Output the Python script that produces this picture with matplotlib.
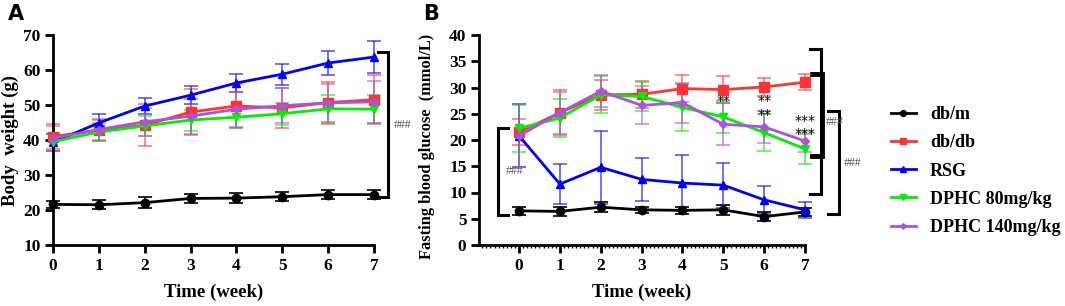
import matplotlib
matplotlib.use("Agg")
import matplotlib.pyplot as plt
from matplotlib.ticker import MultipleLocator
import numpy as np

weeks = [0, 1, 2, 3, 4, 5, 6, 7]
groups = ["db/m", "db/db", "RSG", "DPHC 80mg/kg", "DPHC 140mg/kg"]
colors = ["#000000", "#FF3333", "#0000FF", "#00EE00", "#B050E0"]
markers = ["o", "s", "^", "v", "D"]
msizes = [6, 6.5, 6, 6, 4]

# Panel A: body weight (g)
bw_dbm = [21.6, 21.5, 22.1, 23.3, 23.4, 23.8, 24.4, 24.4]
bw_dbm_err = [1.1, 1.3, 1.5, 1.2, 1.5, 1.3, 1.2, 1.3]
bw_dbdb = [41.0, 42.8, 44.2, 48.0, 49.7, 49.2, 50.7, 51.5]
bw_dbdb_err = [3.5, 3.0, 6.0, 6.5, 6.2, 5.7, 6.0, 7.0]
bw_rsg = [39.3, 44.9, 49.7, 52.8, 56.3, 58.8, 62.0, 63.7]
bw_rsg_err = [2.3, 2.5, 2.3, 2.5, 2.5, 3.0, 3.5, 4.5]
bw_d80 = [39.5, 42.3, 44.0, 45.7, 46.5, 47.5, 48.9, 48.8]
bw_d80_err = [2.5, 2.5, 2.8, 3.0, 3.0, 3.2, 4.0, 4.0]
bw_d140 = [40.5, 43.0, 45.2, 46.8, 48.8, 49.8, 50.6, 50.9]
bw_d140_err = [3.5, 3.0, 4.0, 5.0, 5.0, 5.0, 5.5, 6.0]

# Panel B: fasting blood glucose (mmol/L)
fbg_dbm = [6.5, 6.4, 7.2, 6.7, 6.6, 6.7, 5.4, 6.3]
fbg_dbm_err = [0.8, 0.9, 0.9, 0.6, 0.6, 1.0, 0.8, 0.8]
fbg_dbdb = [21.5, 25.2, 28.6, 28.7, 29.8, 29.6, 30.1, 31.0]
fbg_dbdb_err = [2.5, 4.3, 2.8, 2.6, 2.6, 2.5, 1.8, 1.5]
fbg_rsg = [20.8, 11.6, 14.8, 12.5, 11.8, 11.4, 8.6, 6.7]
fbg_rsg_err = [6.0, 3.8, 7.0, 4.1, 5.4, 4.3, 2.6, 1.5]
fbg_d80 = [22.2, 24.2, 28.6, 28.3, 26.2, 24.4, 21.4, 18.3]
fbg_d80_err = [4.5, 3.7, 3.5, 2.8, 4.4, 3.0, 3.5, 2.8]
fbg_d140 = [20.8, 25.2, 29.3, 26.6, 27.1, 23.0, 22.5, 19.8]
fbg_d140_err = [6.0, 4.0, 3.0, 3.6, 3.8, 4.0, 3.0, 2.0]

# significance marks (panel B)
star_weeks = [5, 6, 7]
star_texts = ["**\n**", "**\n**", "***\n***"]
star_levels = [28.2, 26.1, 22.4]
star_spacing = [0.45, 1.0, 0.85]

bw_means = [bw_dbm, bw_dbdb, bw_rsg, bw_d80, bw_d140]
bw_errs = [bw_dbm_err, bw_dbdb_err, bw_rsg_err, bw_d80_err, bw_d140_err]
fbg_means = [fbg_dbm, fbg_dbdb, fbg_rsg, fbg_d80, fbg_d140]
fbg_errs = [fbg_dbm_err, fbg_dbdb_err, fbg_rsg_err, fbg_d80_err, fbg_d140_err]

serif = ["Liberation Serif", "DejaVu Serif"]
plt.rcParams["font.family"] = serif
plt.rcParams["font.weight"] = "bold"

W, H = 1065, 306
fig = plt.figure(figsize=(W / 100, H / 100), dpi=100)
axA = fig.add_axes([53 / W, 61 / H, (374 - 53) / W, (245 - 35) / H])
axB = fig.add_axes([479 / W, 61 / H, (805 - 479) / W, (245 - 35) / H])


def style(ax):
    for s in ["top", "right"]:
        ax.spines[s].set_visible(False)
    for s in ["left", "bottom"]:
        ax.spines[s].set_linewidth(2)
    ax.tick_params(axis="both", which="major", length=6, width=2,
                   labelsize=12.5, pad=3)
    for lab in ax.get_xticklabels() + ax.get_yticklabels():
        lab.set_fontweight("bold")


def draw(ax, means, errs, order):
    handles = {}
    for i in order:
        ax.errorbar(weeks, means[i], yerr=errs[i], fmt="none",
                    ecolor=colors[i], alpha=0.65 if i else 1.0,
                    elinewidth=1.2, capsize=5, capthick=1.2,
                    clip_on=False, zorder=2 + i * 0.1)
        ln, = ax.plot(weeks, means[i], color=colors[i], marker=markers[i],
                      ms=msizes[i], lw=2, clip_on=False, zorder=3 + i * 0.1,
                      label=groups[i])
        handles[i] = ln
    return [handles[i] for i in range(5)]


def bracket(ax, x0, x1, y0, y1, lw=2):
    ax.plot([x0, x1, x1, x0], [y1, y1, y0, y0], color="black", lw=lw,
            clip_on=False, solid_joinstyle="miter")


def hashes(ax, x, y):
    ax.text(x, y, "###", fontsize=8.5, color="#555555", ha="center",
            va="center", fontweight="normal", clip_on=False)


# Panel A
draw(axA, bw_means, bw_errs, [0, 3, 4, 1, 2])
axA.set_xlim(0, 7)
axA.set_ylim(10, 70)
axA.set_xticks(weeks)
axA.set_yticks(range(10, 71, 10))
style(axA)
axA.set_xlabel("Time (week)", fontsize=13.5, fontweight="bold", labelpad=7)
axA.set_ylabel("Body  weight (g)", fontsize=13.5, fontweight="bold",
               labelpad=3)

bracket(axA, 7.09, 7.30, 23.7, 65.1, lw=2.2)
hashes(axA, 7.62, 44.3)
fig.text(8 / W, 1 - 14 / H, "A", fontsize=15, fontweight="bold",
         family=["DejaVu Sans"], va="center", ha="left")

# Panel B
handles = draw(axB, fbg_means, fbg_errs, [0, 2, 4, 3, 1])
axB.set_xlim(-0.98, 7)
axB.set_ylim(0, 40)
axB.set_xticks(weeks)
axB.set_yticks(range(0, 41, 5))
axB.xaxis.set_minor_locator(MultipleLocator(0.1))
axB.tick_params(axis="x", which="minor", length=2.5, width=1)
style(axB)
axB.set_xlabel("Time (week)", fontsize=13.5, fontweight="bold", labelpad=7)
axB.set_ylabel("Fasting blood glucose  (mmol/L)", fontsize=11.8,
               fontweight="bold", labelpad=3)
axB.yaxis.set_label_coords(-0.135, 0.47)

bracket(axB, -0.27, -0.52, 5.7, 22.2, lw=2.2)
hashes(axB, -0.12, 14.0)
bracket(axB, 7.12, 7.39, 9.65, 37.3, lw=2.2)
bracket(axB, 7.17, 7.42, 16.9, 32.5, lw=3.5)
bracket(axB, 7.56, 7.83, 5.85, 25.5, lw=2.2)
hashes(axB, 7.73, 23.4)
hashes(axB, 8.17, 15.6)

for wk, txt, lvl, sp in zip(star_weeks, star_texts, star_levels,
                            star_spacing):
    axB.text(wk, lvl, txt, fontsize=10, ha="center", va="center",
             fontweight="normal", family=["DejaVu Sans"], linespacing=sp)

fig.text(423 / W, 1 - 14 / H, "B", fontsize=15, fontweight="bold",
         family=["DejaVu Sans"], va="center", ha="left")

leg = fig.legend(handles=handles, loc="center left",
                 bbox_to_anchor=(884 / W, 1 - 171 / H), frameon=False,
                 fontsize=13, labelspacing=0.62, handlelength=1.35,
                 handletextpad=0.8, markerscale=0.7, borderaxespad=0)
for t in leg.get_texts():
    t.set_fontweight("bold")

fig.savefig("out.png", dpi=100)
